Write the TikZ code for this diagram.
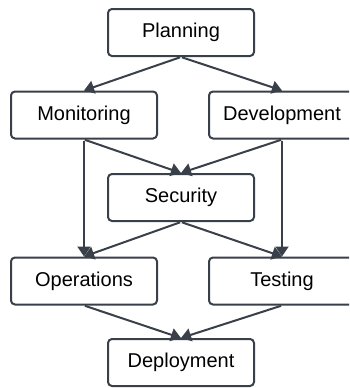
\documentclass[tikz,border=0pt]{standalone}
\usepackage{fontspec}
\setmainfont{Liberation Sans}
\usetikzlibrary{arrows.meta}
\definecolor{ink}{HTML}{3A4049}
\tikzset{
  stagebox/.style={draw=ink, line width=2pt, rounded corners=4pt, fill=white,
    minimum width=146pt, minimum height=47pt, inner sep=0pt,
    font=\fontsize{20}{22}\selectfont, text=black},
  flow/.style={draw=ink, line width=2pt, -{Triangle[length=10pt,width=13pt]}, shorten <=1pt}
}
\begin{document}
\begin{tikzpicture}[x=1pt,y=-1pt]
\useasboundingbox (0,0) rectangle (349,388);
\fill[white] (0,0) rectangle (349,388);
\clip (0,0) rectangle (349,388);
\node[stagebox] (plan) at (181,32.5) {Planning};
\node[stagebox] (mon) at (84,115) {Monitoring};
\node[stagebox] (dev) at (282,115) {Development};
\node[stagebox] (sec) at (181,197.5) {Security};
\node[stagebox] (ops) at (84,281) {Operations};
\node[stagebox] (test) at (282,281) {Testing};
\node[stagebox] (dep) at (181,362.5) {Deployment};
\draw[flow] (plan.south) -- (mon.north);
\draw[flow] (plan.south) -- (dev.north);
\draw[flow] (mon.south) -- (sec.north);
\draw[flow] (dev.south) -- (sec.north);
\draw[flow] (mon.south) -- (ops.north);
\draw[flow] (dev.south) -- (test.north);
\draw[flow] (sec.south) -- (ops.north);
\draw[flow] (sec.south) -- (test.north);
\draw[flow] (ops.south) -- (dep.north);
\draw[flow] (test.south) -- (dep.north);
\end{tikzpicture}
\end{document}
